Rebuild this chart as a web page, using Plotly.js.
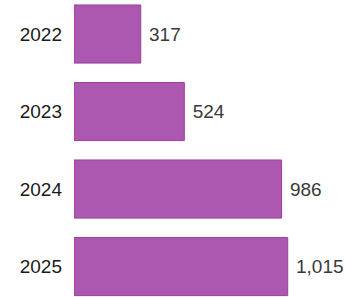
<!DOCTYPE html>
<html>
<head>
<meta charset="utf-8">
<script src="https://cdn.plot.ly/plotly-3.0.1.min.js"></script>
<style>html,body{margin:0;padding:0;background:#fff;}#chart{width:357px;height:297px;}</style>
</head>
<body>
<div id="chart"></div>
<script>
const years = ['2022', '2023', '2024', '2025'];
const values = [317, 524, 986, 1015];

const trace = {
  type: 'bar',
  orientation: 'h',
  y: years,
  x: values,
  marker: { color: '#ac58b0', line: { color: '#9a3f9e', width: 1 } },
  width: 0.75,
  texttemplate: ' %{x:,}',
  textposition: 'outside',
  cliponaxis: false,
  textfont: { family: 'Liberation Sans, Arial, sans-serif', size: 19, color: '#3a3a3a' },
  hoverinfo: 'none'
};

const layout = {
  width: 357,
  height: 297,
  margin: { l: 74, r: 0, t: 0, b: 0 },
  paper_bgcolor: '#ffffff',
  plot_bgcolor: '#ffffff',
  showlegend: false,
  xaxis: { range: [0, 1344], visible: false, fixedrange: true },
  yaxis: {
    type: 'category',
    range: [3.393, -0.439],
    showgrid: false,
    zeroline: false,
    showline: false,
    ticks: '',
    ticklabelstandoff: 11,
    tickfont: { family: 'Liberation Sans, Arial, sans-serif', size: 19, color: '#1a1a1a' },
    fixedrange: true
  }
};

Plotly.newPlot('chart', [trace], layout, { displayModeBar: false, staticPlot: true });
</script>
</body>
</html>
